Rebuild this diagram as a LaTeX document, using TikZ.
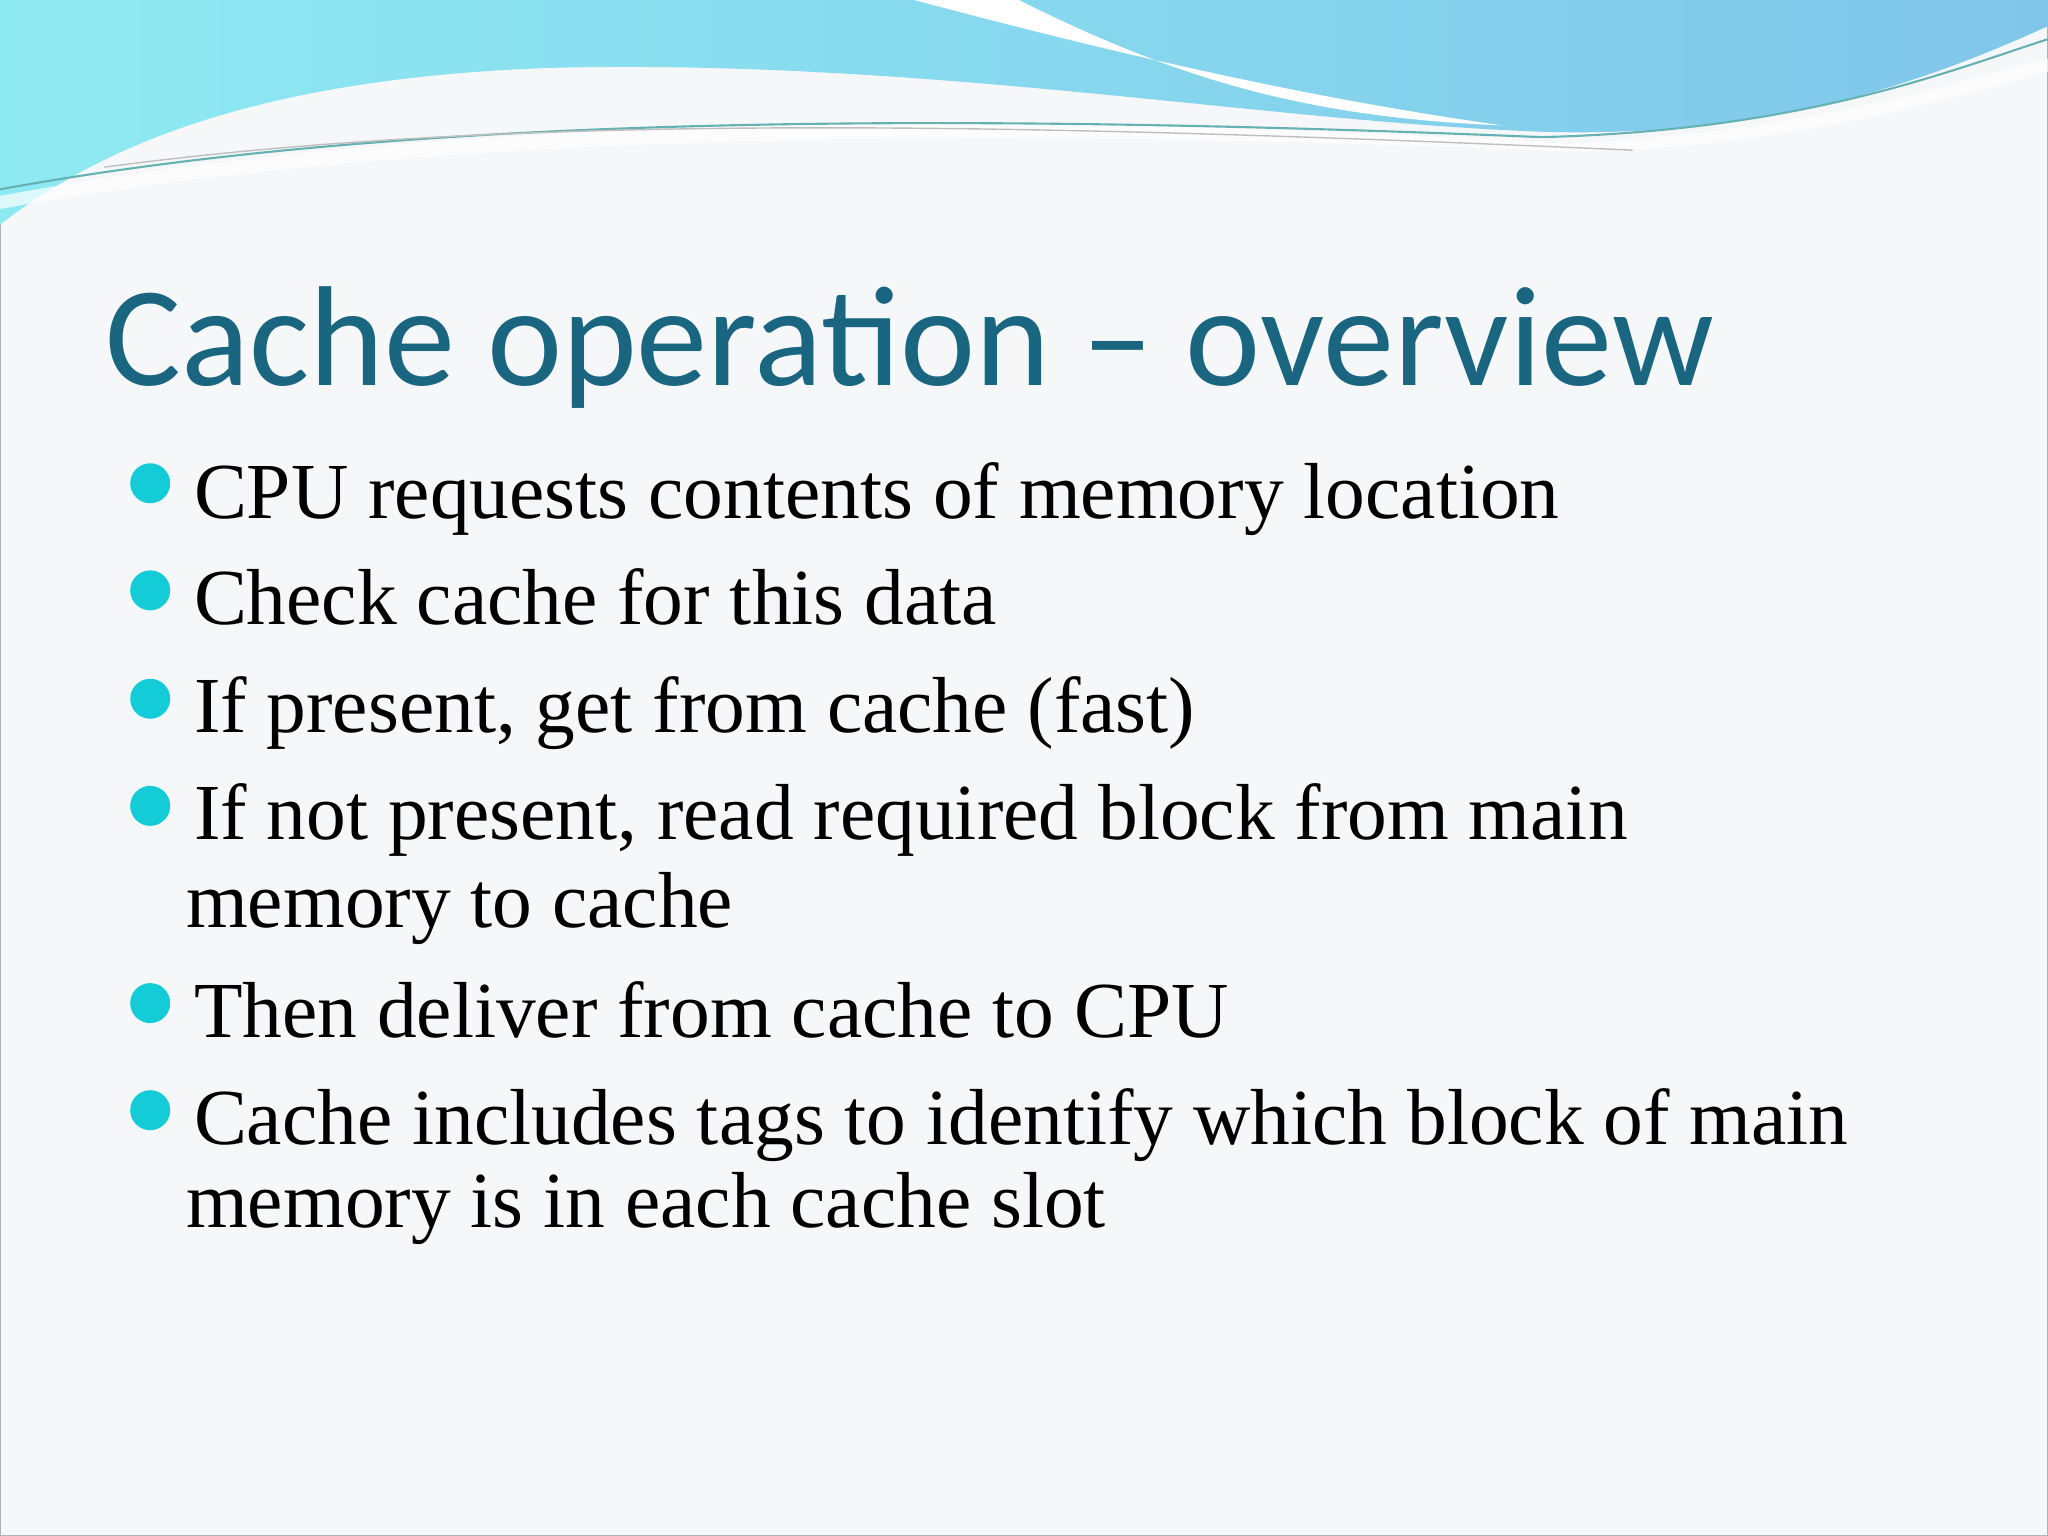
\documentclass[tikz,border=0pt]{standalone}
\usepackage{fontspec}
\setmainfont{Liberation Serif}
\newfontfamily\titlefont{Carlito}
\definecolor{bg}{HTML}{F6F7F9}
\definecolor{titlec}{HTML}{1A6680}
\definecolor{bul}{HTML}{14CCD8}
\definecolor{wa}{HTML}{8EEAF2}
\definecolor{wb}{HTML}{80C6EA}
\tikzset{btext/.style={anchor=base west,inner sep=0pt,font=\fontsize{22.6}{26}\selectfont},
 bdot/.style={circle,fill=bul,minimum size=0.4cm,inner sep=0pt}}
\begin{document}
\begin{tikzpicture}[x=0.01306cm,y=-0.01306cm]
\useasboundingbox (0,0) rectangle (1568,1176);
\fill[bg] (0,0) rectangle (1568,1176);
\draw[gray!60] (0.5,0.5) rectangle (1567.5,1175.5);
% waves
\shade[left color=wa,right color=wb] (0,0) -- (0,172) .. controls (80,110) and (200,60) .. (420,52) .. controls (700,45) and (950,90) .. (1160,100) .. controls (1350,110) and (1480,60) .. (1568,20) -- (1568,0) -- cycle;
\fill[white] (700,0) .. controls (850,40) and (1000,75) .. (1150,96) .. controls (1000,90) and (900,60) .. (780,0) -- cycle;
\fill[white,opacity=0.7] (0,150) .. controls (300,95) and (700,80) .. (1200,110) .. controls (1400,100) and (1500,60) .. (1568,45) -- (1568,55) .. controls (1480,80) and (1350,115) .. (1200,116) .. controls (700,95) and (300,105) .. (0,160) -- cycle;
\draw[teal!60,line width=0.6pt] (0,145) .. controls (300,90) and (700,85) .. (1180,105) .. controls (1380,100) and (1490,55) .. (1568,30);
\draw[gray!50,line width=0.4pt] (80,128) .. controls (400,85) and (800,95) .. (1250,115);
% title
\node[anchor=base west,inner sep=0pt,text=titlec,font=\titlefont\fontsize{40.5}{48}\selectfont] (title) at (80,295) {Cache operat{}ion – overview};
% bullets
\node[bdot] (d1) at (115,370) {};
\node[btext] (t1) at (148,397) {CPU requests contents of memory location};
\node[bdot] (d2) at (115,452) {};
\node[btext] (t2) at (148,478) {Check cache for this data};
\node[bdot] (d3) at (115,535) {};
\node[btext] (t3) at (148,561) {If present, get from cache (fast)};
\node[bdot] (d4) at (115,617) {};
\node[btext] (t4) at (148,643) {If not present, read required block from main};
\node[btext] (t4b) at (142,710) {memory to cache};
\node[bdot] (d5) at (115,768) {};
\node[btext] (t5) at (148,794) {Then deliver from cache to CPU};
\node[bdot] (d6) at (115,850) {};
\node[btext] (t6) at (148,876) {Cache includes tags to identify which block of main};
\node[btext] (t6b) at (142,940) {memory is in each cache slot};
\end{tikzpicture}
\end{document}
